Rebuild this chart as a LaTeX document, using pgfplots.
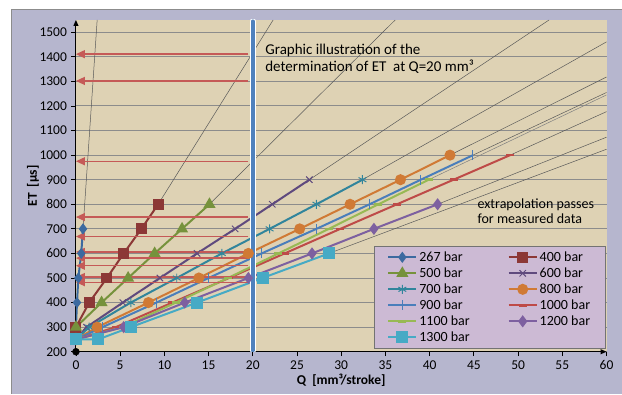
\documentclass[border=0pt]{standalone}
\usepackage{fontspec}
\setmainfont{Carlito}
\usepackage{pgfplots}
\pgfplotsset{compat=1.18}
\usetikzlibrary{arrows.meta}
\definecolor{bgout}{RGB}{182,182,206}
\definecolor{bgplot}{RGB}{222,210,180}
\definecolor{legbg}{RGB}{204,186,212}
\definecolor{cA}{HTML}{3C6AA0}
\definecolor{cB}{HTML}{8C3836}
\definecolor{cC}{HTML}{76923C}
\definecolor{cD}{HTML}{5F4A7E}
\definecolor{cE}{HTML}{31859C}
\definecolor{cF}{HTML}{D07A35}
\definecolor{cG}{HTML}{4A7EBB}
\definecolor{cH}{HTML}{BE4B48}
\definecolor{cI}{HTML}{98B954}
\definecolor{cJ}{HTML}{7D60A0}
\definecolor{cK}{HTML}{46AAC5}
\definecolor{arr}{HTML}{C55A57}
\definecolor{vblue}{HTML}{4F81BD}
\begin{document}
\begin{tikzpicture}[x=1pt,y=1pt]
\fill[white] (0,0) rectangle (622,394);
\fill[bgout] (12,0) rectangle (622,384);
\draw[black!45, line width=1pt] (12,0) -- (12,384) -- (622,384);
\begin{axis}[
  at={(76pt,42pt)}, anchor=south west,
  width=531pt, height=332pt, scale only axis,
  xmin=0, xmax=60, ymin=200, ymax=1550,
  axis x line=bottom, axis y line=left,
  axis line style={line width=1pt, -{Triangle[length=6pt,width=5pt]}},
  xtick={0,5,...,60}, ytick={200,300,...,1500},
  tick align=outside, major tick length=4.5pt,
  tick style={black, line width=0.8pt},
  ymajorgrids, grid style={black!45, line width=1pt},
  axis background/.style={fill=bgplot},
  tick label style={font=\fontsize{13.5}{15}\selectfont},
  yticklabel style={xshift=-1pt},
  xticklabel style={yshift=-1pt},
  /pgf/number format/assume math mode=true,
  /pgf/number format/1000 sep={},
  xlabel={Q\ \ [mm³/stroke]}, ylabel={ET\ \ [µs]},
  label style={font=\bfseries\fontsize{13.5}{15}\selectfont},
  xlabel style={at={(axis description cs:0.5,-0.087)}, anchor=center},
  ylabel style={at={(axis description cs:-0.081,0.5)}, anchor=center},
  clip=true,
  legend columns=2,
  legend style={at={(axis description cs:0.998,0.009)}, anchor=south east,
    fill=legbg, draw=black!55, line width=0.6pt,
    font=\fontsize{14}{16}\selectfont,
    /tikz/every even column/.append style={column sep=36pt},
    row sep=0.8pt, inner xsep=13pt, inner ysep=3.5pt, cells={anchor=west}},
  legend image code/.code={\draw[mark repeat=2,mark phase=2] plot coordinates {(0pt,0pt)(14pt,0pt)(28pt,0pt)};},
]
% extrapolation passes
\addplot[forget plot, black!65, line width=0.5pt] coordinates {(0.8,700)(2.4,1550)};
\addplot[forget plot, black!65, line width=0.5pt] coordinates {(9.3,800)(22.3,1550)};
\addplot[forget plot, black!65, line width=0.5pt] coordinates {(15.1,800)(36.1,1550)};
\addplot[forget plot, black!65, line width=0.5pt] coordinates {(26.4,900)(53.5,1550)};
\addplot[forget plot, black!65, line width=0.5pt] coordinates {(32.4,900)(60,1461)};
\addplot[forget plot, black!65, line width=0.5pt] coordinates {(42.3,1000)(60,1318)};
\addplot[forget plot, black!65, line width=0.5pt] coordinates {(44.9,1000)(60,1255)};
\addplot[forget plot, black!65, line width=0.5pt] coordinates {(49.1,1000)(60,1177)};
\addplot[forget plot, black!50, line width=0.5pt] coordinates {(39.9,900)(60,1245)};
\addplot[forget plot, black!65, line width=0.5pt] coordinates {(40.9,800)(60,1073)};
\addplot[forget plot, black!65, line width=0.5pt] coordinates {(28.6,600)(60,1024)};
% measured data
\addplot[cA, line width=2pt, mark=diamond*, mark size=4pt] coordinates {(0,250)(0,300)(0.12,400)(0.27,500)(0.6,600)(0.8,700)};
\addlegendentry{267 bar}
\addplot[cB, line width=2pt, mark=square*, mark size=4.5pt] coordinates {(0,250)(0,300)(1.5,400)(3.5,500)(5.4,600)(7.4,700)(9.3,800)};
\addlegendentry{400 bar}
\addplot[cC, line width=2pt, mark=triangle*, mark size=5pt] coordinates {(0,250)(0,300)(2.9,400)(5.9,500)(8.9,600)(12,700)(15.1,800)};
\addlegendentry{500 bar}
\addplot[cD, line width=2pt, mark=x, mark size=4.5pt, mark options={line width=1pt}] coordinates {(0,250)(1.2,300)(5.3,400)(9.5,500)(13.7,600)(18,700)(22.2,800)(26.4,900)};
\addlegendentry{600 bar}
\addplot[cE, line width=2pt, mark=asterisk, mark size=4.5pt, mark options={line width=1pt}] coordinates {(0,250)(1.5,300)(6.2,400)(11.4,500)(16.5,600)(21.9,700)(27.2,800)(32.4,900)};
\addlegendentry{700 bar}
\addplot[cF, line width=2pt, mark=*, mark size=4.5pt] coordinates {(0,250)(2.4,300)(8.2,400)(13.9,500)(19.5,600)(25.3,700)(31,800)(36.7,900)(42.3,1000)};
\addlegendentry{800 bar}
\addplot[cG, line width=2pt, mark=|, mark size=5pt, mark options={line width=1pt}] coordinates {(0,250)(3,300)(9.1,400)(15,500)(21,600)(27.2,700)(33.2,800)(39,900)(44.9,1000)};
\addlegendentry{900 bar}
\addplot[cH, line width=2pt, mark=-, mark size=4pt, mark options={line width=2.6pt}] coordinates {(0,250)(4.5,300)(10.9,400)(17.3,500)(23.6,600)(29.9,700)(36.3,800)(42.7,900)(49.1,1000)};
\addlegendentry{1000 bar}
\addplot[cI, line width=2pt, mark=-, mark size=4pt, mark options={line width=2.6pt}] coordinates {(0,250)(5.3,300)(11.3,400)(17.2,500)(22.9,600)(28.6,700)(34.2,800)(39.9,900)};
\addlegendentry{1100 bar}
\addplot[cJ, line width=2pt, mark=diamond*, mark size=4.5pt] coordinates {(0,250)(5.4,300)(12.3,400)(19.5,500)(26.7,600)(33.7,700)(40.9,800)};
\addlegendentry{1200 bar}
\addplot[cK, line width=2pt, mark=square*, mark size=5pt] coordinates {(0,250)(2.5,250)(6.2,300)(13.7,400)(21.1,500)(28.6,600)};
\addlegendentry{1300 bar}
% arrows to the ET axis
\addplot[forget plot, arr, line width=1.3pt, -{Triangle[length=9pt,width=8pt]}] coordinates {(19.5,1411)(0,1411)};
\addplot[forget plot, arr, line width=1.3pt, -{Triangle[length=9pt,width=8pt]}] coordinates {(19.5,1302)(0,1302)};
\addplot[forget plot, arr, line width=1.3pt, -{Triangle[length=9pt,width=8pt]}] coordinates {(19.5,975)(0,975)};
\addplot[forget plot, arr, line width=1.3pt, -{Triangle[length=9pt,width=8pt]}] coordinates {(19.5,748)(0,748)};
\addplot[forget plot, arr, line width=1.3pt, -{Triangle[length=9pt,width=8pt]}] coordinates {(19.5,669)(0,669)};
\addplot[forget plot, arr, line width=1.3pt, -{Triangle[length=9pt,width=8pt]}] coordinates {(19.5,606)(0,606)};
\addplot[forget plot, arr, line width=1.3pt, -{Triangle[length=9pt,width=8pt]}] coordinates {(19.5,581)(0,581)};
\addplot[forget plot, arr, line width=1.3pt, -{Triangle[length=9pt,width=8pt]}] coordinates {(19.5,550)(0,550)};
\addplot[forget plot, arr, line width=1.3pt, -{Triangle[length=9pt,width=8pt]}] coordinates {(19.5,504)(0,504)};
\addplot[forget plot, arr, line width=1.3pt, -{Triangle[length=9pt,width=8pt]}] coordinates {(19.5,483)(0,483)};
% Q = 20 line
\addplot[forget plot, white, line width=6pt, line cap=round] coordinates {(20,205)(20,1545)};
\addplot[forget plot, vblue, line width=3.5pt, line cap=round] coordinates {(20,205)(20,1545)};
% origin dot
\addplot[forget plot, only marks, black, mark=*, mark size=3.5pt] coordinates {(0,200)};
\node[anchor=base west, align=left, inner sep=0pt, font=\fontsize{15}{17.7}\selectfont] at (axis cs:21.4,1339) {Graphic illustration of the\\determination of ET\ \ at Q=20 mm³};
\node[anchor=base west, align=left, inner sep=0pt, font=\fontsize{14}{15.7}\selectfont] at (axis cs:45.4,720) {extrapolation passes\\for measured data};
\end{axis}
\end{tikzpicture}
\end{document}
